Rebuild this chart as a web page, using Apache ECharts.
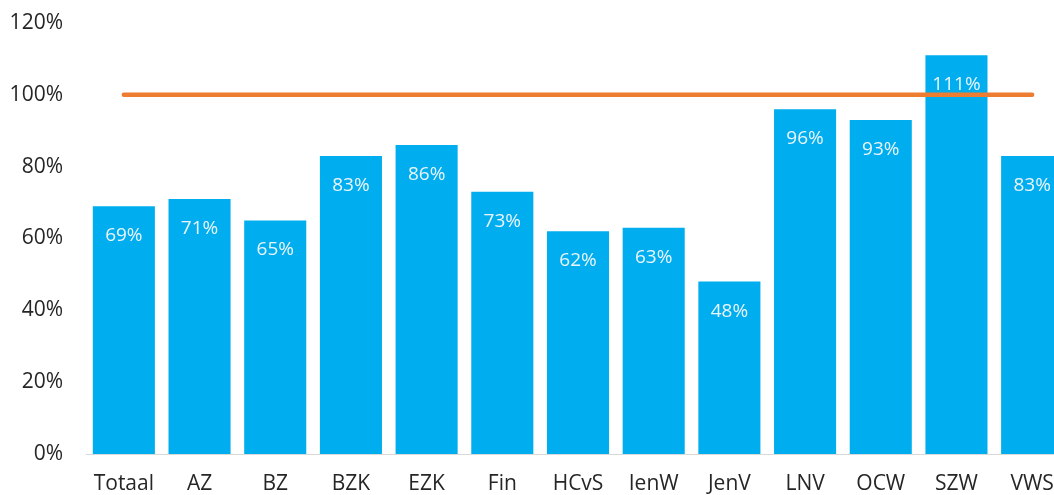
<!DOCTYPE html>
<html>
<head>
<meta charset="utf-8">
<script src="https://cdn.jsdelivr.net/npm/echarts@6/dist/echarts.min.js"></script>
<style>
  html, body { margin: 0; padding: 0; background: #ffffff; overflow: hidden; }
  #chart { width: 1070px; height: 495px; }
</style>
</head>
<body>
<div id="chart"></div>
<script>
// Ministries and realised share (%)
const categories = ['Totaal', 'AZ', 'BZ', 'BZK', 'EZK', 'Fin', 'HCvS', 'IenW', 'JenV', 'LNV', 'OCW', 'SZW', 'VWS'];
const percentages = [69, 71, 65, 83, 86, 73, 62, 63, 48, 96, 93, 111, 83];
const targetLevel = 100;
const yTicks = [0, 20, 40, 60, 80, 100, 120];

const chart = echarts.init(document.getElementById('chart'), null, { renderer: 'canvas' });
const font = '"Open Sans", "Noto Sans", sans-serif';

chart.setOption({
  animation: false,
  backgroundColor: '#ffffff',
  grid: { left: 86, right: 0, top: 23, bottom: 40, containLabel: false },
  xAxis: {
    type: 'category',
    data: categories,
    axisTick: { show: false },
    axisLine: { lineStyle: { color: '#d9d9d9', width: 1 } },
    axisLabel: { interval: 0, hideOverlap: false, color: '#262626', fontSize: 21, fontFamily: font, margin: 20 }
  },
  yAxis: {
    type: 'value',
    min: yTicks[0],
    max: yTicks[yTicks.length - 1],
    interval: yTicks[1] - yTicks[0],
    axisLine: { show: false },
    axisTick: { show: false },
    splitLine: { show: false },
    axisLabel: { color: '#262626', fontSize: 21, fontFamily: font, margin: 23, formatter: v => v + '%' }
  },
  series: [
    {
      type: 'bar',
      data: percentages,
      barCategoryGap: '18%',
      itemStyle: { color: '#00ADEE' },
      label: {
        show: true,
        position: 'insideTop',
        distance: 20,
        color: '#eaf5fb',
        fontSize: 19,
        fontFamily: font,
        formatter: p => p.value + '%'
      },
      z: 2
    },
    {
      type: 'line',
      data: categories.map(() => targetLevel),
      symbol: 'none',
      lineStyle: { color: '#ED7D31', width: 4.5, cap: 'round' },
      z: 3
    }
  ]
});
</script>
</body>
</html>
